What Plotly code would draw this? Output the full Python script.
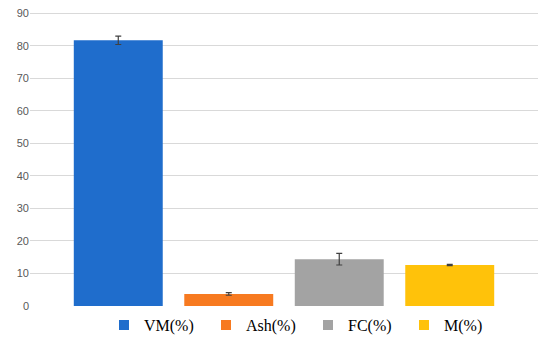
import plotly.graph_objects as go

series = ["VM(%)", "Ash(%)", "FC(%)", "M(%)"]
values = [81.7, 3.7, 14.4, 12.6]
errors = [1.3, 0.4, 1.8, 0.2]
colors = ["#1f6dcc", "#f77a20", "#a3a3a3", "#ffc20a"]
yticks = [0, 10, 20, 30, 40, 50, 60, 70, 80, 90]
legend_x = [(104 - 30) / 508, (206 - 30) / 508, (308 - 30) / 508, (404 - 30) / 508]

fig = go.Figure()
for name, v, e, c in zip(series, values, errors, colors):
    fig.add_trace(go.Bar(
        x=[""], y=[v], name=name, showlegend=False,
        marker=dict(color=c, line=dict(width=0)),
        error_y=dict(type="data", array=[e], visible=True, color="#404040", thickness=1.2, width=3),
    ))
legend_names = ["legend", "legend2", "legend3", "legend4"]
for name, c, lg in zip(series, colors, legend_names):
    fig.add_trace(go.Scatter(
        x=[None], y=[None], mode="markers", name=name, legend=lg,
        marker=dict(symbol="square", size=10, color=c),
    ))

legend_style = dict(orientation="h", xanchor="left", y=-0.065, yanchor="middle",
                    font=dict(family="Liberation Serif", size=16, color="#000000"),
                    itemwidth=30, bgcolor="rgba(0,0,0,0)")
fig.update_layout(
    width=550, height=344,
    margin=dict(l=30, r=12, t=12, b=38, autoexpand=False),
    plot_bgcolor="white", paper_bgcolor="white",
    barmode="group", bargap=0.13, bargroupgap=0.195,
    showlegend=True,
    legend=dict(x=legend_x[0], **legend_style),
    legend2=dict(x=legend_x[1], **legend_style),
    legend3=dict(x=legend_x[2], **legend_style),
    legend4=dict(x=legend_x[3], **legend_style),
    xaxis=dict(showticklabels=False, showgrid=False, zeroline=False, showline=False),
    yaxis=dict(range=[0, 90.4], tickvals=yticks, showgrid=True, gridcolor="#d9d9d9", gridwidth=1,
               zeroline=False, showline=False, ticks="", automargin=False,
               tickfont=dict(family="Liberation Sans", size=11, color="#595959")),
)

fig.write_html("out.html", config={"displayModeBar": False},
               post_script="document.body.style.margin='0px';")
